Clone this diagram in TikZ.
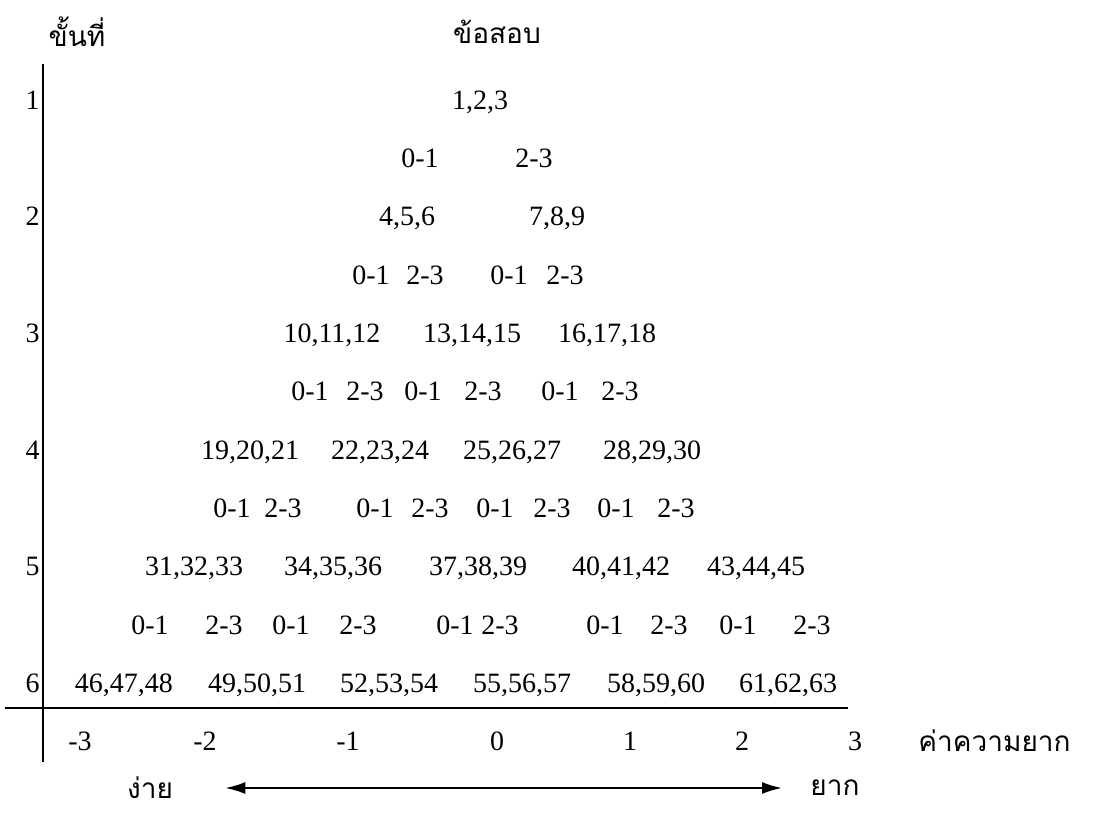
\documentclass[tikz,border=0pt]{standalone}
\usepackage{fontspec}
\setmainfont{Liberation Serif}
\newfontfamily\thaifont[Script=Thai]{Loma}
\usetikzlibrary{arrows.meta,positioning}

\begin{document}
\begin{tikzpicture}[x=0.5pt,y=-0.5pt, font=\fontsize{14}{16}\selectfont,
 num/.style={inner sep=0pt,text depth=0pt},
 lvl/.style={inner sep=0pt,text depth=0pt,anchor=east},
 thai/.style={inner sep=0pt,font=\thaifont\fontsize{14}{17}\selectfont},
 axis/.style={line width=1pt},
 arr/.style={{Latex[length=10pt,width=6pt]}-{Latex[length=10pt,width=6pt]},line width=1pt}]
\useasboundingbox (0,0) rectangle (1099,813);
% headings
\node[thai] (hstep) at (77,32) {ขั้นที่};
\node[thai] (hitem) at (497,32) {ข้อสอบ};
% levels
\node[lvl] (lv1) at (40,100) {1}; \node[lvl] (lv2) at (40,216) {2}; \node[lvl] (lv3) at (40,333) {3};
\node[lvl] (lv4) at (40,450) {4}; \node[lvl] (lv5) at (40,566) {5}; \node[lvl] (lv6) at (40,683) {6};
% items and score branches
\node[num] (q1) at (480,100) {1,2,3};
\node[num] (b1a) at (420,158) {0-1}; \node[num] (b1b) at (534,158) {2-3};
\node[num] (q4) at (407,216) {4,5,6}; \node[num] (q7) at (557,216) {7,8,9};
\node[num] (b2a) at (371,275) {0-1}; \node[num] (b2b) at (425,275) {2-3}; \node[num] (b2c) at (509,275) {0-1}; \node[num] (b2d) at (565,275) {2-3};
\node[num] (q10) at (332,333) {10,11,12}; \node[num] (q13) at (472,333) {13,14,15}; \node[num] (q16) at (607,333) {16,17,18};
\node[num] (b3a) at (310,391) {0-1}; \node[num] (b3b) at (365,391) {2-3}; \node[num] (b3c) at (423,391) {0-1};
\node[num] (b3d) at (483,391) {2-3}; \node[num] (b3e) at (560,391) {0-1}; \node[num] (b3f) at (620,391) {2-3};
\node[num] (q19) at (250,450) {19,20,21}; \node[num] (q22) at (380,450) {22,23,24}; \node[num] (q25) at (512,450) {25,26,27}; \node[num] (q28) at (652,450) {28,29,30};
\node[num] (b4a) at (232,508) {0-1}; \node[num] (b4b) at (283,508) {2-3}; \node[num] (b4c) at (375,508) {0-1}; \node[num] (b4d) at (430,508) {2-3};
\node[num] (b4e) at (495,508) {0-1}; \node[num] (b4f) at (552,508) {2-3}; \node[num] (b4g) at (616,508) {0-1}; \node[num] (b4h) at (676,508) {2-3};
\node[num] (q31) at (194,566) {31,32,33}; \node[num] (q34) at (333,566) {34,35,36}; \node[num] (q37) at (478,566) {37,38,39};
\node[num] (q40) at (621,566) {40,41,42}; \node[num] (q43) at (756,566) {43,44,45};
\node[num] (b5a) at (150,625) {0-1}; \node[num] (b5b) at (224,625) {2-3}; \node[num] (b5c) at (291,625) {0-1}; \node[num] (b5d) at (358,625) {2-3};
\node[num] (b5e) at (455,625) {0-1}; \node[num] (b5f) at (500,625) {2-3}; \node[num] (b5g) at (605,625) {0-1}; \node[num] (b5h) at (669,625) {2-3};
\node[num] (b5i) at (738,625) {0-1}; \node[num] (b5j) at (812,625) {2-3};
\node[num] (q46) at (124,683) {46,47,48}; \node[num] (q49) at (257,683) {49,50,51}; \node[num] (q52) at (389,683) {52,53,54};
\node[num] (q55) at (522,683) {55,56,57}; \node[num] (q58) at (656,683) {58,59,60}; \node[num] (q61) at (788,683) {61,62,63};
% axes
\coordinate (vtop) at (43,64); \coordinate (vbot) at (43,762);
\coordinate (hleft) at (5,708); \coordinate (hright) at (848,708);
\draw[axis] (vtop) -- (vbot); \draw[axis] (hleft) -- (hright);
\node[num] (tm3) at (80,741) {-3}; \node[num] (tm2) at (205,741) {-2}; \node[num] (tm1) at (348,741) {-1};
\node[num] (t0) at (497,741) {0}; \node[num] (tp1) at (630,741) {1}; \node[num] (tp2) at (742,741) {2}; \node[num] (tp3) at (855,741) {3};
\node[thai,anchor=west] (diff) at (918,741) {ค่าความยาก};
% easy -> hard
\node[thai] (easy) at (150,788) {ง่าย};
\node[thai] (hard) at (835,788) {ยาก};
\draw[arr,shorten <=26pt,shorten >=14pt] (easy) -- (hard);
\end{tikzpicture}
\end{document}
